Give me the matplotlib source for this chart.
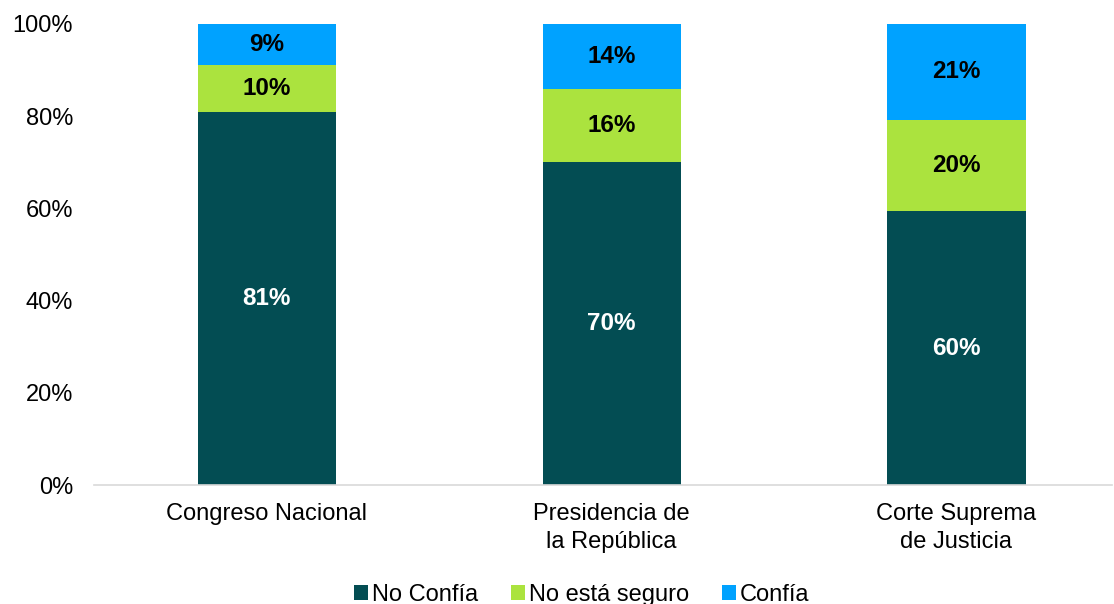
import matplotlib
matplotlib.use("Agg")
import matplotlib.pyplot as plt
import numpy as np

categories = ["Congreso Nacional", "Presidencia de\nla República", "Corte Suprema\nde Justicia"]
no_confia = [81, 70, 60]
no_seguro = [10, 16, 20]
confia = [9, 14, 21]

series = [
    ("No Confía", no_confia, "#034d53", "white"),
    ("No está seguro", no_seguro, "#abe33e", "black"),
    ("Confía", confia, "#00a2ff", "black"),
]

plt.rcParams["font.family"] = ["Liberation Sans", "DejaVu Sans"]

fig = plt.figure(figsize=(11.14, 6.04), dpi=100)
ax = fig.add_axes([94 / 1114, 1 - 485 / 604, (1112 - 94) / 1114, 461 / 604])

x = np.arange(len(categories))
totals = np.array(no_confia) + np.array(no_seguro) + np.array(confia)
bottom = np.zeros(len(categories))
for name, vals, color, tcolor in series:
    share = np.array(vals) / totals * 100
    ax.bar(x, share, width=0.4, bottom=bottom, color=color, label=name)
    for xi, b, h, v in zip(x, bottom, share, vals):
        ax.text(xi, b + h / 2, f"{v}%", ha="center", va="center",
                fontsize=17.5, fontweight="bold", color=tcolor)
    bottom += share

ax.set_xlim(-0.5, -0.5 + (1112 - 94) / 345)
ax.set_ylim(0, 100)
ax.set_yticks(np.arange(0, 101, 20))
ax.set_yticklabels([f"{t}%" for t in range(0, 101, 20)], fontsize=17)
ax.set_xticks(x)
ax.set_xticklabels(categories, fontsize=17, linespacing=1.35)
ax.tick_params(length=0, pad=13)
ax.tick_params(axis="y", pad=15)
for s in ["top", "right", "left"]:
    ax.spines[s].set_visible(False)
ax.spines["bottom"].set_color("#d9d9d9")
ax.spines["bottom"].set_linewidth(1.2)

fig.legend(loc="lower center", bbox_to_anchor=(0.522, -0.038), ncol=3, frameon=False,
           fontsize=17, handlelength=0.6, handleheight=0.6, handletextpad=0.15,
           columnspacing=1.4)

fig.savefig("out.png", dpi=100)
